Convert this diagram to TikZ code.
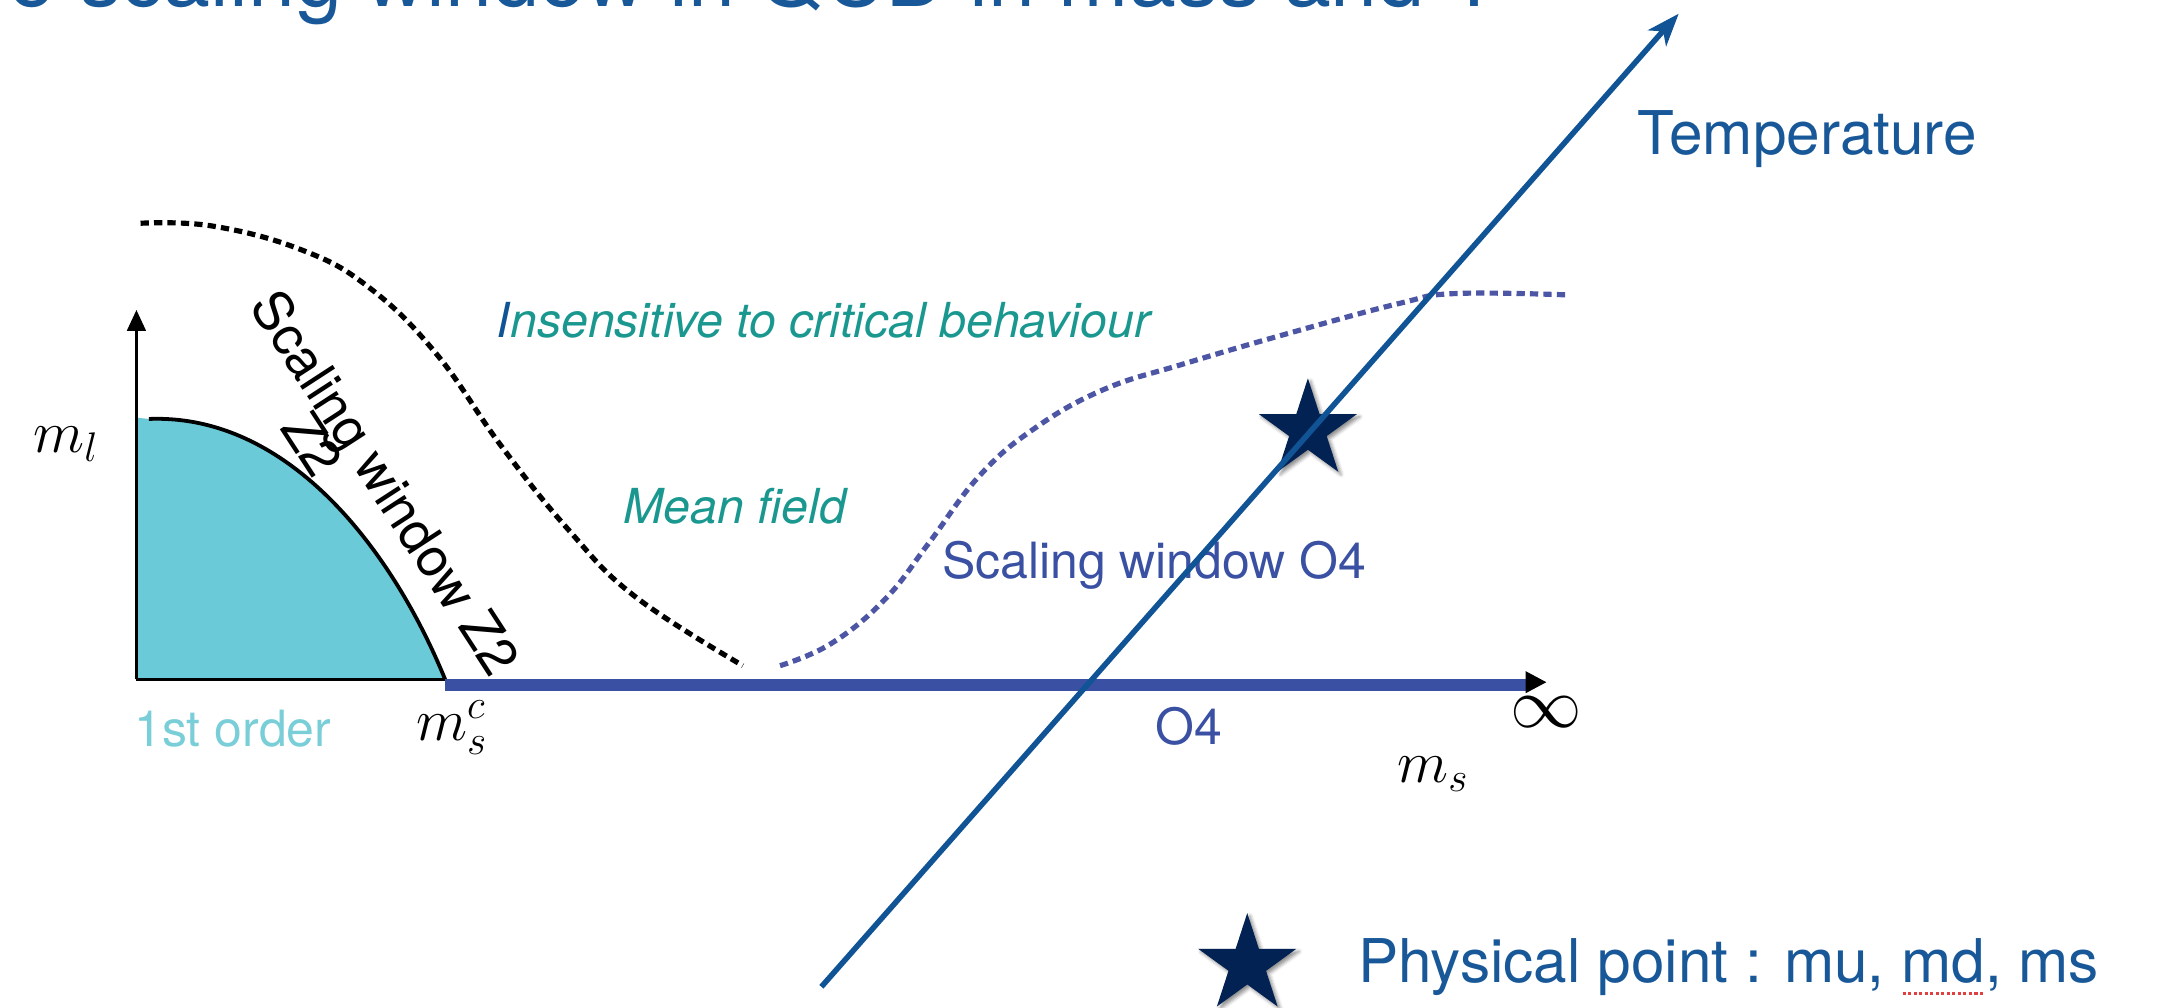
\documentclass[tikz,border=0pt]{standalone}
\usepackage{amsmath}
\usepackage{amssymb}
\usepackage{fontspec}
\setmainfont{TeX Gyre Heros}
\usepackage{tikz}
\usepackage{color}
\usetikzlibrary{shapes}
\usetikzlibrary{shadows.blur}

\definecolor{tempblue}{RGB}{16,84,150}
\definecolor{titleblue}{RGB}{24,88,152}
\definecolor{starnavy}{RGB}{3,34,84}
\definecolor{critteal}{RGB}{26,152,144}
\definecolor{orderfill}{RGB}{106,202,216}
\definecolor{ordertext}{RGB}{122,206,216}
\definecolor{ofourblue}{RGB}{58,80,162}
\definecolor{dotblue}{RGB}{76,86,164}
\definecolor{spellred}{RGB}{226,64,64}

% red dotted mark under a word
\newcommand{\spellmark}[1]{\setbox0\hbox{#1}\rlap{\color{spellred}\raisebox{-3.5pt}{\hbox to \wd0{\leaders\hbox to 1.6pt{\hss\rule{0.9pt}{0.9pt}\hss}\hfill}}}\box0}

\begin{document}
\begin{tikzpicture}[x=0.4pt,y=0.4pt,yscale=-1,xscale=1,
  lblbig/.style={inner sep=0pt, font=\fontsize{17.5}{21}\selectfont},
  lblmid/.style={inner sep=0pt, font=\fontsize{14.5}{17}\selectfont},
  lblmath/.style={inner sep=0pt, font=\fontsize{17}{20}\selectfont},
  dotline/.style={line width=1.5pt, dash pattern=on 2.4pt off 1.5pt},
  bigstar/.style={star, star points=5, star point ratio=2.618, fill=starnavy, inner sep=0pt, minimum size=30pt,
    blur shadow={shadow xshift=0.8pt, shadow yshift=-0.8pt, shadow blur radius=1pt, shadow opacity=45}}]
%set diagram left start at 0, and has height of 731
\useasboundingbox (0,0) rectangle (1568,731);
\clip (0,0) rectangle (1568,731);

% Text Node
\draw (6,5) node [anchor=base west][inner sep=0pt][font=\fontsize{24.5}{29}\selectfont, text=titleblue] (titleLbl) {e scaling window in QCD in mass and T};

\coordinate (orig) at (99,493);
\coordinate (mlTop) at (99,238);
\coordinate (msc) at (323,493);
\coordinate (barL) at (323,497);
\coordinate (barR) at (1108,497);
\coordinate (tempFoot) at (596,716);
\coordinate (tempHead) at (1208,21);

%Shape: first order region
\fill [orderfill] (99,303) -- (108,304) .. controls (210,300) and (285,400) .. (msc) -- (orig) -- cycle ;
%Curve Lines
\draw [line width=1.1pt] (108,304) .. controls (210,300) and (285,400) .. (msc) ;

%Curve Lines
\draw [dotline] plot [smooth, tension=0.7] coordinates {(102,162) (154,164) (218,181) (267,208) (316,256) (364,324) (413,385) (461,433) (539,483)} ;
%Curve Lines
\draw [dotline, dotblue] plot [smooth, tension=0.7] coordinates {(566,483) (603,467) (642,435) (674,394) (710,346) (749,312) (800,283) (859,264) (938,241) (1016,220) (1056,213) (1138,214)} ;

%Straight Lines
\draw [line width=0.9pt] (orig) -- (mlTop) ;
\draw [shift={(99,225)}, rotate = 90] [fill=black][line width=0.08] [draw opacity=0] (15,-7) -- (0,0) -- (15,7) -- cycle ;
%Straight Lines
\draw [line width=0.9pt] (orig) -- (msc) ;
%Straight Lines
\draw [ofourblue, line width=3.4pt] (barL) -- (barR) ;
\draw [shift={(1122,495)}, rotate = 180] [fill=black][line width=0.08] [draw opacity=0] (15,-8) -- (0,0) -- (15,8) -- cycle ;

% Text Node
\draw (48,322) node [lblmath] (mlLbl) {$m_l$};
% Text Node
\draw (328,528) node [lblmath] (mscLbl) {$m_s^c$};
% Text Node
\draw (1122,517) node [lblmath, font=\fontsize{20}{24}\selectfont] (infLbl) {$\infty$};
% Text Node
\draw (1040,562) node [lblmath] (msLbl) {$m_s$};
% Text Node
\draw (97,542) node [anchor=base west][lblmid, text=ordertext] (firstLbl) {1st order};
% Text Node
\draw (838,540) node [anchor=base west][lblmid, text=ofourblue] (ofourLbl) {O4};
% Text Node
\draw (277,352) node [lblmid, font=\fontsize{15.5}{18}\selectfont, rotate=-57] (swZtwo) {Scaling window Z2};
% Text Node
\draw (227,322) node [lblmid, font=\fontsize{15.5}{18}\selectfont, rotate=-57] (ztwoLbl) {Z2};
% Text Node
\draw (360,245) node [anchor=base west][lblmid, font=\fontsize{14}{17}\itshape, text=critteal] (insLbl) {\textcolor{tempblue}{I}nsensitive to critical behaviour};
% Text Node
\draw (452,380) node [anchor=base west][lblmid, font=\fontsize{14}{17}\itshape, text=critteal] (meanLbl) {Mean field};
% Text Node
\draw (683,420) node [anchor=base west][lblmid, text=ofourblue] (swOfour) {Scaling window O4};

%Shape: Star
\node [bigstar] (physStar) at (949,312) {};
%Shape: Star
\node [bigstar] (legendStar) at (905,700) {};

% Text Node
\draw (1188,112) node [anchor=base west][lblbig, text=titleblue] (tempLbl) {Temperature};
% Text Node
\draw (985,713) node [anchor=base west][lblbig, text=titleblue] (physLbl) {Physical point : mu, \spellmark{md}, ms};

%Straight Lines
\draw [tempblue, line width=1.6pt] (tempFoot) -- (tempHead) ;
\draw [shift={(1218,10)}, rotate = 131.4] [fill=tempblue][line width=0.08] [draw opacity=0] (24,-9) -- (0,0) -- (24,9) -- (17,0) -- cycle ;

\end{tikzpicture}
\end{document}
